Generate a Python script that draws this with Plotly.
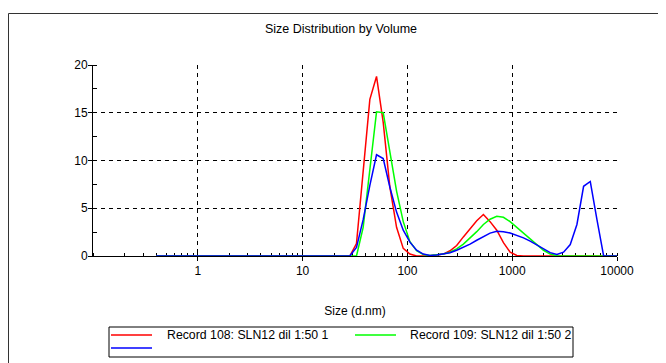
import plotly.graph_objects as go

# Size classes (d.nm)
sizes = [0.4, 0.4632, 0.5365, 0.6213, 0.7195, 0.8332, 0.9649, 1.117, 1.294, 1.499,
         1.736, 2.01, 2.328, 2.696, 3.122, 3.615, 4.187, 4.849, 5.615, 6.503,
         7.531, 8.721, 10.1, 11.7, 13.54, 15.69, 18.17, 21.04, 24.36, 28.21,
         32.67, 37.84, 43.82, 50.75, 58.77, 68.06, 78.82, 91.28, 105.7, 122.4,
         141.8, 164.2, 190.1, 220.2, 255.0, 295.3, 342.0, 396.1, 458.7, 531.2,
         615.1, 712.4, 825.0, 955.4, 1106, 1281, 1484, 1718, 1990, 2305,
         2669, 3091, 3580, 4145, 4801, 5560, 6439, 7456, 8635, 10000]

# Volume % — Record 108
record108 = [0]*30 + [1.3, 8.5, 16.4, 18.8, 14.0, 7.2, 3.0, 0.8, 0.2, 0.0,
                      0.0, 0.02, 0.1, 0.2, 0.55, 1.1, 2.0, 2.9, 3.7, 4.35,
                      3.6, 2.7, 1.4, 0.4, 0.05] + [0]*15
# Volume % — Record 109
record109 = [0]*31 + [3.0, 9.0, 15.1, 15.0, 11.0, 6.8, 3.6, 1.5, 0.55,
                      0.15, 0.05, 0.1, 0.2, 0.4, 0.75, 1.25, 1.85, 2.55, 3.3,
                      3.85, 4.15, 4.05, 3.6, 3.0, 2.4, 1.75, 1.15, 0.6, 0.2,
                      0.03] + [0]*9
# Volume % — third record (unnamed)
record3 = [0]*30 + [0.9, 3.8, 7.4, 10.6, 10.2, 7.2, 4.6, 2.7, 1.45, 0.6,
                    0.2, 0.06, 0.1, 0.2, 0.35, 0.6, 0.9, 1.25, 1.65, 2.05,
                    2.4, 2.6, 2.55, 2.4, 2.15, 1.9, 1.55, 1.15, 0.75, 0.35,
                    0.15, 0.4, 1.2, 3.3, 7.3, 7.8, 3.8, 0, 0, 0]

names = ["Record 108: SLN12 dil 1:50 1", "Record 109: SLN12 dil 1:50 2", ""]
colors = ["#ff0000", "#00ff00", "#0000ff"]
series = [record108, record109, record3]

x_ticks = [1, 10, 100, 1000, 10000]
x_ticktext = ["1", "10", "100", "1000", "10000"]
y_ticks = [0, 5, 10, 15, 20]

FONT = "Liberation Sans, Arial, sans-serif"

fig = go.Figure()
for name, col, vals in zip(names, colors, series):
    fig.add_trace(go.Scatter(x=sizes, y=vals, mode="lines", name=name,
                             line=dict(color=col, width=1.5), showlegend=False))

# The page places the figure 8px in from the top-left corner of the window
W, H = 658, 355
L, R, T, B = 85, 49, 57, 107
pw, ph = W - L - R, H - T - B

def px2x(p):
    return (p - L) / pw

def py2y(p):
    return (H - B - p) / ph

grid = dict(showgrid=True, gridcolor="black", gridwidth=1, griddash="4px,4px")

# Legend drawn as a boxed key below the plot (as in the reference)
legend_rows = [(103, 144, 327, 157, 0), (347, 388, 327, 400, 1), (103, 144, 340, None, 2)]
shapes = [dict(type="rect", xref="paper", yref="paper",
               x0=px2x(0.5), x1=px2x(700), y0=py2y(400), y1=py2y(5.5),
               line=dict(color="#333333", width=1), layer="below"),
          dict(type="rect", xref="paper", yref="paper",
               x0=px2x(101), x1=px2x(565), y0=py2y(349), y1=py2y(319),
               line=dict(color="black", width=1), fillcolor="white", layer="below")]
annotations = []
for x0, x1, yy, tx, i in legend_rows:
    shapes.append(dict(type="line", xref="paper", yref="paper",
                       x0=px2x(x0), x1=px2x(x1), y0=py2y(yy), y1=py2y(yy),
                       line=dict(color=colors[i], width=1.5)))
    if tx is not None and names[i]:
        annotations.append(dict(text=names[i], xref="paper", yref="paper",
                                x=px2x(tx), y=py2y(yy), xanchor="left", yanchor="middle",
                                showarrow=False, font=dict(family=FONT, size=12.3, color="black")))

fig.update_layout(
    width=W, height=H,
    margin=dict(l=L, r=R, t=T, b=B, autoexpand=False),
    paper_bgcolor="white", plot_bgcolor="white",
    font=dict(family=FONT, size=12, color="black"),
    title=dict(text="Size Distribution by Volume", xref="container", yref="container",
               x=333 / W, y=1 - 21 / H, xanchor="center", yanchor="middle",
               font=dict(family=FONT, size=12.5, color="black")),
    xaxis=dict(type="log", range=[-1, 4], tickvals=x_ticks, ticktext=x_ticktext,
               ticks="outside", ticklen=4, tickcolor="black", showline=True,
               linecolor="black", linewidth=1, layer="below traces", zeroline=False,
               ticklabelstandoff=0,
               minor=dict(ticks="inside", ticklen=3, tickcolor="black", dtick="D1", showgrid=False),
               title=dict(text="Size (d.nm)", standoff=29, font=dict(family=FONT, size=12)),
               **grid),
    yaxis=dict(range=[0, 20], tickvals=y_ticks, ticks="outside", ticklen=4,
               tickcolor="black", showline=True, linecolor="black", linewidth=1,
               layer="below traces", zeroline=False, ticklabelstandoff=-2,
               minor=dict(ticks="inside", ticklen=4, tickcolor="black", dtick=2.5, showgrid=False),
               **grid),
    shapes=shapes,
    annotations=annotations,
    showlegend=False,
)

fig.write_html("out.html")
